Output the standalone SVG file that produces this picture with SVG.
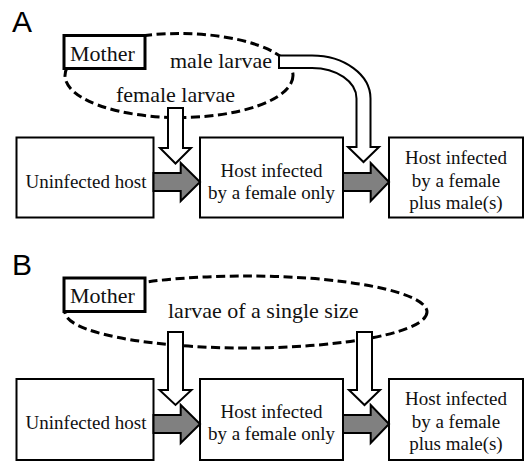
<svg xmlns="http://www.w3.org/2000/svg" width="526" height="461" viewBox="0 0 526 461">
<style>
.bg{fill:#ffffff}
.panel{font-family:'Liberation Sans',Arial,sans-serif;font-size:30px;fill:#000}
.lbl{font-family:'Liberation Serif','DejaVu Serif','Times New Roman',serif;font-size:22px;fill:#111}
.txt{font-family:'Liberation Serif','DejaVu Serif','Times New Roman',serif;font-size:19px;fill:#111;text-anchor:middle}
.box{fill:#fff;stroke:#000;stroke-width:2}
.mother{fill:#fff;stroke:#000;stroke-width:3}
.cloud{fill:none;stroke:#000;stroke-width:3;stroke-dasharray:9 4.5}
.hollow{fill:#fff;stroke:#000;stroke-width:2;stroke-linejoin:miter}
.gray{fill:#808080;stroke:#000;stroke-width:2;stroke-linejoin:miter}
</style>
<rect class="bg" x="0" y="0" width="526" height="461"/>
<text class="panel" x="12" y="31.5">A</text>
<text class="panel" x="12" y="275">B</text>

<!-- Panel A -->
<g id="larvaeA"><ellipse class="cloud" cx="179" cy="75.5" rx="114" ry="42"/></g>
<g id="motherA"><rect class="mother" x="64" y="35.5" width="81" height="33"/><text class="lbl" font-family="Liberation Serif, serif" x="70" y="60.7">Mother</text></g>
<g id="uninfectedA"><rect class="box" x="16.5" y="137.5" width="137" height="80"/><text class="txt" font-family="Liberation Serif, serif" x="86" y="188">Uninfected host</text></g>
<g id="femaleOnlyA"><rect class="box" x="200" y="137.5" width="143" height="80"/><text class="txt" font-family="Liberation Serif, serif" x="271.5" y="177">Host infected</text><text class="txt" font-family="Liberation Serif, serif" x="271.5" y="199">by a female only</text></g>
<g id="femaleMaleA"><rect class="box" x="389" y="137.5" width="134" height="80"/><text class="txt" font-family="Liberation Serif, serif" x="456" y="164">Host infected</text><text class="txt" font-family="Liberation Serif, serif" x="456" y="186.5">by a female</text><text class="txt" font-family="Liberation Serif, serif" x="456" y="209">plus male(s)</text></g>

<!-- Panel B -->
<g id="larvaeB"><ellipse class="cloud" cx="246" cy="312" rx="181" ry="36"/></g>
<g id="motherB"><rect class="mother" x="64" y="278" width="81" height="33.5"/><text class="lbl" font-family="Liberation Serif, serif" x="70" y="303.3">Mother</text></g>
<g id="uninfectedB"><rect class="box" x="16.5" y="379" width="137" height="81"/><text class="txt" font-family="Liberation Serif, serif" x="86" y="429">Uninfected host</text></g>
<g id="femaleOnlyB"><rect class="box" x="200" y="379" width="143" height="81"/><text class="txt" font-family="Liberation Serif, serif" x="271.5" y="418">Host infected</text><text class="txt" font-family="Liberation Serif, serif" x="271.5" y="440">by a female only</text></g>
<g id="femaleMaleB"><rect class="box" x="389" y="379" width="134" height="81"/><text class="txt" font-family="Liberation Serif, serif" x="456" y="405">Host infected</text><text class="txt" font-family="Liberation Serif, serif" x="456" y="427.5">by a female</text><text class="txt" font-family="Liberation Serif, serif" x="456" y="450">plus male(s)</text></g>

<g id="connectors">
  <path class="hollow" d="M168,108 H183 V148 H191 L175.5,163.5 L160,148 H168 Z"/>
  <path class="hollow" d="M279,55.5 H312 A58.5,43 0 0 1 370.5,98.5 V147 H379 L363.5,162 L348,147 H356.5 V98.5 A44.5,30.5 0 0 0 312,68 H279 Z"/>
  <path class="gray" d="M153.5,173 H180.7 V163 L200,182 L180.7,201 V191 H153.5 Z"/>
  <path class="gray" d="M343,173 H370.7 V163 L389,182 L370.7,201 V191 H343 Z"/>
  <path class="hollow" d="M168,332 H183 V390 H191.5 L175.5,405 L159.5,390 H168 Z"/>
  <path class="hollow" d="M357,332 H372 V390 H380 L364.5,405 L349,390 H357 Z"/>
  <path class="gray" d="M153.5,415 H180.7 V405 L200,424 L180.7,443 V433 H153.5 Z"/>
  <path class="gray" d="M343,415 H370.7 V405 L389,424 L370.7,443 V433 H343 Z"/>
</g>

<g id="labels">
  <text class="lbl" font-family="Liberation Serif, serif" x="170" y="68">male larvae</text>
  <text class="lbl" font-family="Liberation Serif, serif" x="116" y="101.7">female larvae</text>
  <text class="lbl" font-family="Liberation Serif, serif" x="168" y="318.3">larvae of a single size</text>
</g>
</svg>
